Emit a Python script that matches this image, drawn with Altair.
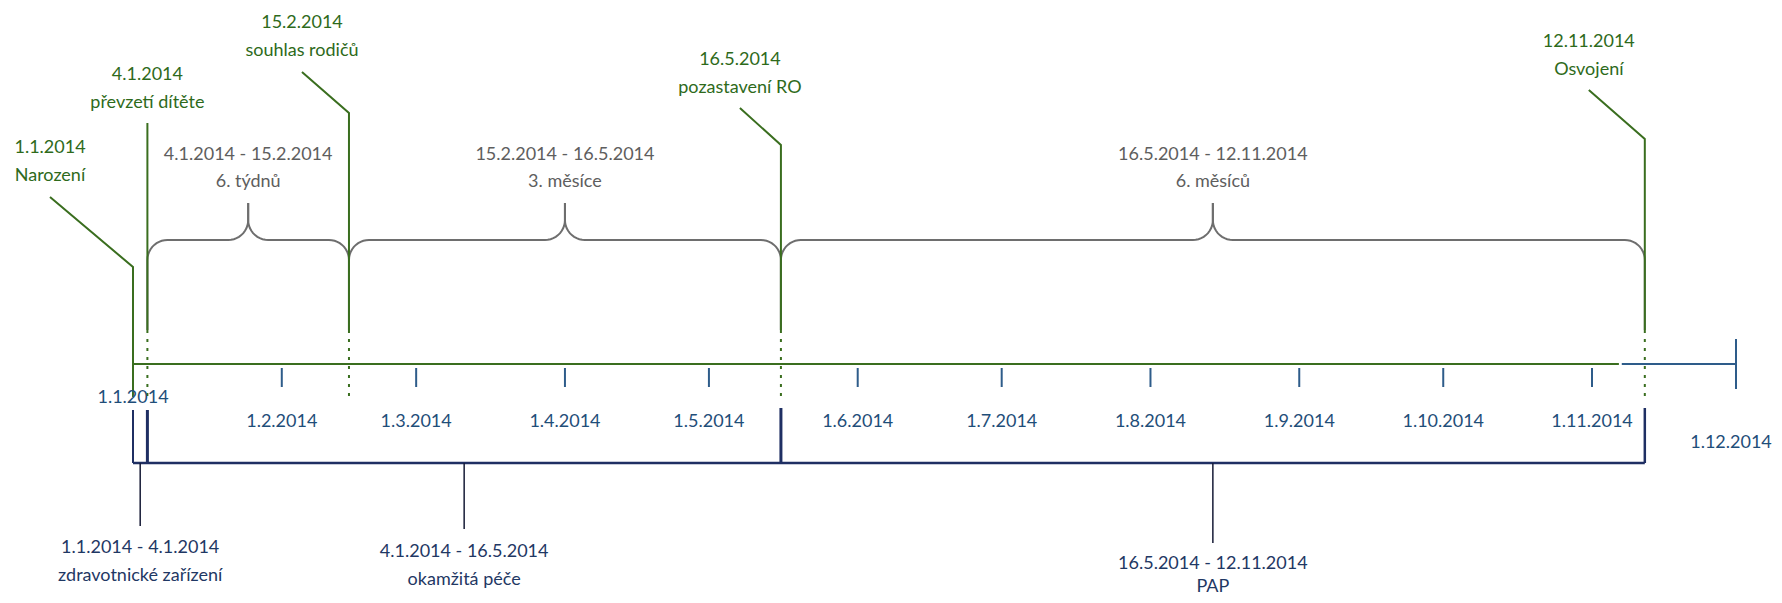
import altair as alt
import numpy as np
import pandas as pd

# ---------------- data ----------------
EVENT_DATES = ["1.1.2014", "4.1.2014", "15.2.2014", "16.5.2014", "12.11.2014"]
EVENT_NAMES = ["Narození", "převzetí dítěte", "souhlas rodičů", "pozastavení RO", "Osvojení"]

INTERVAL_STARTS = ["4.1.2014", "15.2.2014", "16.5.2014"]
INTERVAL_ENDS = ["15.2.2014", "16.5.2014", "12.11.2014"]
INTERVAL_NOTES = ["6. týdnů", "3. měsíce", "6. měsíců"]

PERIOD_STARTS = ["1.1.2014", "4.1.2014", "16.5.2014"]
PERIOD_ENDS = ["4.1.2014", "16.5.2014", "12.11.2014"]
PERIOD_NAMES = ["zdravotnické zařízení", "okamžitá péče", "PAP"]

MONTH_LABELS = ["1.1.2014", "1.2.2014", "1.3.2014", "1.4.2014", "1.5.2014", "1.6.2014",
                "1.7.2014", "1.8.2014", "1.9.2014", "1.10.2014", "1.11.2014", "1.12.2014"]

# ---------------- layout (pixels) ----------------
BASE = pd.Timestamp("2014-01-01")


def day(s):
    return (pd.to_datetime(s, format="%d.%m.%Y") - BASE).days


W, H = 1766, 587
K = 1603 / 334          # px per day
ORIGIN = 125            # plot x of 1.1.2014
FONT = "Lato"
FS = 18

GREEN_TEXT = "#2e6a1b"
GREEN_LINE = "#3a6e1f"
GRAY_LINE = "#6e6e6e"
GRAY_TEXT = "#5e5e5e"
AXIS_BLUE = "#2e5c8a"
TICK_TEXT = "#1f4e79"
NAVY = "#1f2f63"
NAVY_TEXT = "#1f3864"
POINTER = "#161b36"

# event callouts: label dx (px), date-line y, diagonal start y, elbow y
EV_DX = [-83, 0, -47, -41, -56]
EV_DATE_Y = [148, 75, 23, 60, 42]
EV_DIAG_Y = [197, 123, 72, 108, 90]
EV_ELBOW_Y = [267, 123, 113, 145, 139]
LINE_GAP = 28
SOLID_END = 330
DOT_END = 397

AXIS_Y = 364
TICK_Y = (368, 387)
END_TICK_Y = (339, 389)
TICK_LABEL_Y = 422
FIRST_LABEL_Y = 398
LAST_LABEL_Y = 443
LABEL_DX = [0] * 11 + [-5]
SPLIT_DAYS = (309.6, 310.2)

BR_BOTTOM, BR_CORNER, BR_H, BR_TIP, BR_TOP, R = 330, 260, 240, 220, 203, 20
BR_TEXT_Y = 155

BK_Y = 463
BK_TOP = [410, 410, 408, 408]
BK_WIDTH = [2, 3, 3, 2.5]
PTR_END = [526, 529, 543]
PTR_TEXT_Y = [548, 552, 564]
PTR_GAP = [28, 28, 23]

xs = alt.Scale(domain=[-ORIGIN / K, (W - ORIGIN) / K], nice=False, zero=False)
ys = alt.Scale(domain=[8, 8 + H], reverse=True, nice=False, zero=False)
X = lambda f="x": alt.X(f"{f}:Q", scale=xs, axis=None)
Y = lambda f="y": alt.Y(f"{f}:Q", scale=ys, axis=None)

layers = []

# ---- braces (gray) ----
rows = []
t = np.linspace(0, np.pi / 2, 12)
rd = R / K
for i, (s, e) in enumerate(zip(INTERVAL_STARTS, INTERVAL_ENDS)):
    x0, x1 = day(s), day(e)
    xc = (x0 + x1) / 2
    for half, (xe, sg) in enumerate([(x0, 1), (x1, -1)]):
        pts = [(xe, BR_BOTTOM), (xe, BR_CORNER)]
        pts += [(xe + sg * (rd - rd * np.cos(a)), BR_CORNER - R * np.sin(a)) for a in t]
        pts += [(xc - sg * (rd - rd * np.sin(a)), BR_TIP + R * np.cos(a)) for a in t]
        pts += [(xc, BR_TOP)]
        for o, (px, py) in enumerate(pts):
            rows.append({"g": f"b{i}{half}", "o": o, "x": px, "y": py})
braces = pd.DataFrame(rows)
layers.append(alt.Chart(braces).mark_line(color=GRAY_LINE, strokeWidth=2).encode(
    x=X(), y=Y(), detail="g:N", order="o:Q"))

# ---- event callout lines (green) ----
rows = []
for i, d in enumerate(EVENT_DATES):
    ex = day(d)
    lx = ex + EV_DX[i] / K
    end = DOT_END if i == 0 else SOLID_END
    for o, (px, py) in enumerate([(lx, EV_DIAG_Y[i]), (ex, EV_ELBOW_Y[i]), (ex, end)]):
        rows.append({"g": f"e{i}", "o": o, "x": px, "y": py})
layers.append(alt.Chart(pd.DataFrame(rows)).mark_line(color=GREEN_LINE, strokeWidth=2).encode(
    x=X(), y=Y(), detail="g:N", order="o:Q"))

dots = pd.DataFrame({"x": [day(d) for d in EVENT_DATES[1:]],
                     "y": SOLID_END, "y2": DOT_END})
layers.append(alt.Chart(dots).mark_rule(color=GREEN_LINE, strokeWidth=2, strokeDash=[3, 6]).encode(
    x=X(), y=Y(), y2="y2:Q"))

# ---- main axis ----
axis_df = pd.DataFrame({"x": [0, SPLIT_DAYS[1]], "x2": [SPLIT_DAYS[0], day(MONTH_LABELS[-1])],
                        "y": AXIS_Y, "c": ["g", "b"]})
layers.append(alt.Chart(axis_df).mark_rule(strokeWidth=2).encode(
    x=X(), x2="x2:Q", y=Y(),
    color=alt.Color("c:N", scale=alt.Scale(domain=["g", "b"], range=[GREEN_LINE, AXIS_BLUE]), legend=None)))

months = pd.DataFrame({"label": MONTH_LABELS, "x": [day(m) for m in MONTH_LABELS]})
ticks = months.iloc[1:].copy()
ticks["y"] = [TICK_Y[0]] * (len(ticks) - 1) + [END_TICK_Y[0]]
ticks["y2"] = [TICK_Y[1]] * (len(ticks) - 1) + [END_TICK_Y[1]]
layers.append(alt.Chart(ticks).mark_rule(color=AXIS_BLUE, strokeWidth=2).encode(
    x=X(), y=Y(), y2="y2:Q"))

labels = months.copy()
labels["x"] = labels["x"] + np.array(LABEL_DX) / K
labels["y"] = [FIRST_LABEL_Y] + [TICK_LABEL_Y] * (len(labels) - 2) + [LAST_LABEL_Y]
layers.append(alt.Chart(labels).mark_text(font=FONT, fontSize=FS, color=TICK_TEXT,
                                          align="center", baseline="middle").encode(
    x=X(), y=Y(), text="label:N"))

# ---- navy brackets ----
bounds = [PERIOD_STARTS[0]] + PERIOD_ENDS
bk = pd.DataFrame({"x": [day(PERIOD_STARTS[0])], "x2": [day(PERIOD_ENDS[-1])], "y": [BK_Y]})
layers.append(alt.Chart(bk).mark_rule(color=NAVY, strokeWidth=2.5).encode(x=X(), x2="x2:Q", y=Y()))
bv = pd.DataFrame({"x": [day(b) for b in bounds], "y": BK_TOP, "y2": BK_Y, "w": BK_WIDTH})
layers.append(alt.Chart(bv).mark_rule(color=NAVY).encode(
    x=X(), y=Y(), y2="y2:Q", strokeWidth=alt.StrokeWidth("w:Q", scale=None, legend=None)))
mids = [(day(s) + day(e)) / 2 for s, e in zip(PERIOD_STARTS, PERIOD_ENDS)]
pv = pd.DataFrame({"x": mids, "y": BK_Y, "y2": PTR_END})
layers.append(alt.Chart(pv).mark_rule(color=POINTER, strokeWidth=1.5).encode(x=X(), y=Y(), y2="y2:Q"))

# ---- texts ----
ev_rows = []
for i, (d, n) in enumerate(zip(EVENT_DATES, EVENT_NAMES)):
    lx = day(d) + EV_DX[i] / K
    ev_rows.append({"x": lx, "y": EV_DATE_Y[i], "t": d})
    ev_rows.append({"x": lx, "y": EV_DATE_Y[i] + LINE_GAP, "t": n})
layers.append(alt.Chart(pd.DataFrame(ev_rows)).mark_text(
    font=FONT, fontSize=FS, color=GREEN_TEXT, align="center", baseline="middle").encode(
    x=X(), y=Y(), text="t:N"))

br_rows = []
for s, e, n in zip(INTERVAL_STARTS, INTERVAL_ENDS, INTERVAL_NOTES):
    xc = (day(s) + day(e)) / 2
    br_rows.append({"x": xc, "y": BR_TEXT_Y, "t": f"{s} - {e}"})
    br_rows.append({"x": xc, "y": BR_TEXT_Y + 27, "t": n})
layers.append(alt.Chart(pd.DataFrame(br_rows)).mark_text(
    font=FONT, fontSize=FS, color=GRAY_TEXT, align="center", baseline="middle").encode(
    x=X(), y=Y(), text="t:N"))

pr_rows = []
for i, (s, e, n) in enumerate(zip(PERIOD_STARTS, PERIOD_ENDS, PERIOD_NAMES)):
    pr_rows.append({"x": mids[i], "y": PTR_TEXT_Y[i], "t": f"{s} - {e}"})
    pr_rows.append({"x": mids[i], "y": PTR_TEXT_Y[i] + PTR_GAP[i], "t": n})
layers.append(alt.Chart(pd.DataFrame(pr_rows)).mark_text(
    font=FONT, fontSize=FS, color=NAVY_TEXT, align="center", baseline="middle").encode(
    x=X(), y=Y(), text="t:N"))

chart = alt.layer(*layers).properties(
    width=W, height=H, padding=0, autosize=alt.AutoSizeParams(type="none"),
    background="white"
).configure_view(stroke=None)

chart.save("out.html", embed_options={"renderer": "svg", "actions": False})
